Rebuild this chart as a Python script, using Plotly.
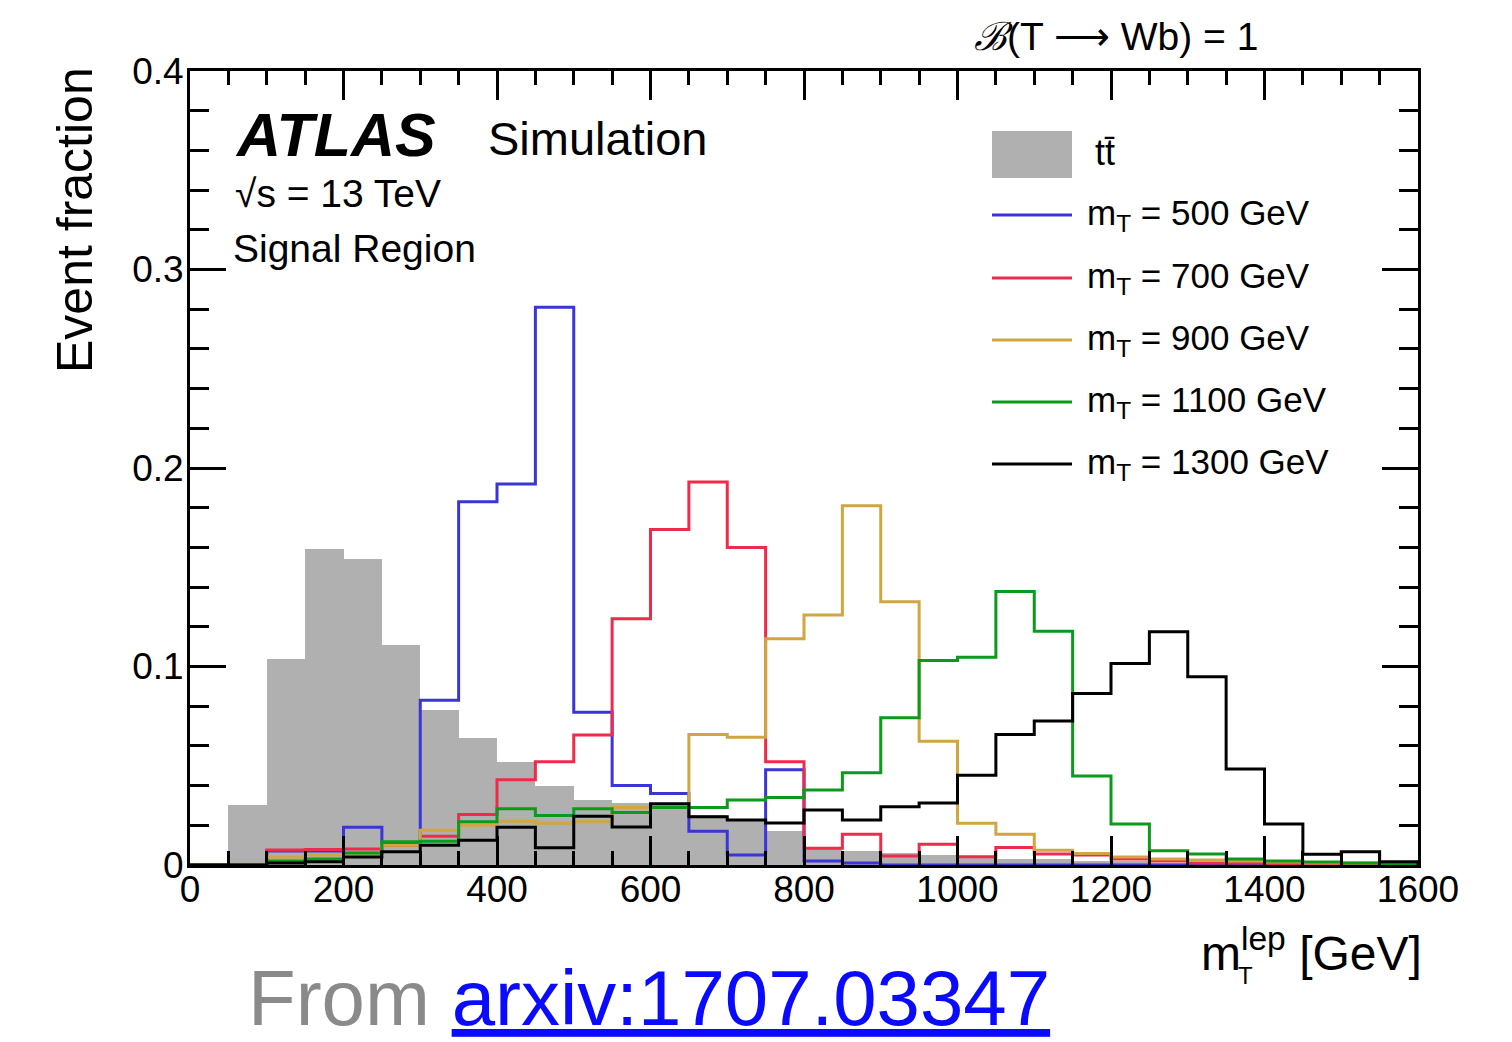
import plotly.graph_objects as go

# 50 GeV bins from 0 to 1600 GeV
bin_edges = list(range(0, 1650, 50))
bin_centers = [e + 25 for e in bin_edges[:-1]]

# Event fractions per bin (32 bins)
ttbar = [0.0, 0.030, 0.104, 0.159, 0.154, 0.111, 0.078, 0.064, 0.052, 0.040,
         0.033, 0.031, 0.030, 0.025, 0.022, 0.017, 0.009, 0.007, 0.006, 0.005,
         0.004, 0.003, 0.003, 0.002, 0.002, 0.001, 0.001, 0.001, 0.001, 0.0005,
         0.0005, 0.0005]
mT500 = [0.0, 0.0, 0.007, 0.007, 0.019, 0.011, 0.083, 0.183, 0.192, 0.281,
         0.077, 0.040, 0.036, 0.017, 0.005, 0.048, 0.002, 0.001, 0.0, 0.0,
         0.0, 0.0, 0.0, 0.0, 0.0, 0.0, 0.0, 0.0, 0.0, 0.0, 0.0, 0.0]
mT700 = [0.0, 0.0, 0.0076, 0.0078, 0.008, 0.010, 0.0145, 0.0255, 0.043, 0.052,
         0.0655, 0.124, 0.169, 0.193, 0.160, 0.052, 0.0084, 0.0155, 0.0045, 0.0105,
         0.0042, 0.0088, 0.0055, 0.005, 0.003, 0.002, 0.001, 0.001, 0.0005, 0.0005,
         0.0005, 0.0005]
mT900 = [0.0, 0.0, 0.004, 0.005, 0.006, 0.010, 0.0175, 0.020, 0.022, 0.021,
         0.0218, 0.029, 0.029, 0.0658, 0.0643, 0.114, 0.126, 0.181, 0.1326, 0.0624,
         0.021, 0.0155, 0.0074, 0.0058, 0.004, 0.003, 0.0025, 0.002, 0.0015, 0.001,
         0.001, 0.0005]
mT1100 = [0.0, 0.0, 0.002, 0.003, 0.006, 0.0117, 0.012, 0.0218, 0.0283, 0.025,
          0.0283, 0.0265, 0.029, 0.029, 0.0327, 0.034, 0.0378, 0.0465, 0.0742, 0.103,
          0.1046, 0.1378, 0.1178, 0.0448, 0.0207, 0.0072, 0.0055, 0.003, 0.002, 0.0015,
          0.001, 0.0005]
mT1300 = [0.0, 0.0, 0.001, 0.0017, 0.004, 0.0067, 0.010, 0.0125, 0.019, 0.0087,
          0.0245, 0.0192, 0.0308, 0.0243, 0.0227, 0.0212, 0.0277, 0.0227, 0.0294, 0.0312,
          0.0452, 0.0658, 0.0725, 0.0864, 0.1015, 0.1175, 0.0948, 0.0483, 0.0206, 0.0054,
          0.0067, 0.0017]

signal_series = [
    ("500", mT500, "#3b34d6"),
    ("700", mT700, "#ee2b4a"),
    ("900", mT900, "#cfa640"),
    ("1100", mT1100, "#0c9a1c"),
    ("1300", mT1300, "#000000"),
]

x_ticks = [0, 200, 400, 600, 800, 1000, 1200, 1400, 1600]
y_ticks = [0, 0.1, 0.2, 0.3, 0.4]

FONT = "Liberation Sans, Arial, sans-serif"
W, H = 1512, 1042
L, R, T, B = 190, 1418, 71, 865


def fx(x):
    return (x - L) / (R - L)


def fy(y):
    return (B - y) / (B - T)


def step_xy(vals):
    xs = [bin_edges[0]] + bin_edges
    ys = [0.0] + list(vals) + [0.0]
    return xs, ys


fig = go.Figure()

fig.add_trace(go.Bar(
    x=bin_centers, y=ttbar, width=50,
    marker=dict(color="#b0b0b0", line=dict(width=0)),
    showlegend=False, hoverinfo="skip",
))

for mass, vals, color in signal_series:
    xs, ys = step_xy(vals)
    fig.add_trace(go.Scatter(
        x=xs, y=ys, mode="lines", line=dict(color=color, width=3, shape="hv"),
        name=f"m_T = {mass} GeV", showlegend=False,
    ))

axis_common = dict(
    showline=True, linecolor="black", linewidth=3, mirror="allticks",
    ticks="inside", tickcolor="black", tickwidth=3,
    showgrid=False, zeroline=False,
    tickfont=dict(family=FONT, size=37, color="black"),
)

fig.update_xaxes(
    range=[0, 1600], tickvals=x_ticks, ticklen=29, ticklabelstandoff=-10,
    minor=dict(dtick=50, tick0=0, ticks="inside", ticklen=14, tickwidth=3, tickcolor="black"),
    **axis_common,
)
fig.update_yaxes(
    range=[0, 0.4], tickvals=y_ticks, ticklen=36, ticklabelstandoff=-4,
    minor=dict(dtick=0.02, tick0=0, ticks="inside", ticklen=19, tickwidth=3, tickcolor="black"),
    **axis_common,
)

annotations = []


def text(x, y, s, size, xanchor="left", yanchor="middle", color="black", angle=0):
    annotations.append(dict(
        x=fx(x), y=fy(y), xref="paper", yref="paper", text=s, showarrow=False,
        xanchor=xanchor, yanchor=yanchor, textangle=angle,
        font=dict(family=FONT, size=size, color=color),
    ))


text(233, 135, "<b><i>ATLAS</i></b>", 61)
text(486, 138, "Simulation", 47)
text(233, 193, "\u221As = 13 TeV", 39)
text(231, 248, "Signal Region", 39)
text(972, 37, "<i>\u212C</i>(T \u27f6 Wb) = 1", 39)

# legend
shapes = []
shapes.append(dict(type="rect", xref="paper", yref="paper",
                   x0=fx(992), x1=fx(1072), y0=fy(178), y1=fy(131),
                   fillcolor="#b0b0b0", line=dict(width=0)))
text(1093, 152, "tt\u0304", 36)
legend_y = [215, 278, 340, 402, 464]
for (mass, vals, color), ly in zip(signal_series, legend_y):
    shapes.append(dict(type="line", xref="paper", yref="paper",
                       x0=fx(992), x1=fx(1072), y0=fy(ly), y1=fy(ly),
                       line=dict(color=color, width=3)))
    text(1085, ly, f"m<sub>T</sub> = {mass} GeV", 35)

# axis titles
text(75, 220, "Event fraction", 50, xanchor="center", angle=-90)
text(1424, 950, "m<sup>lep</sup> [GeV]", 48, xanchor="right")
text(1236, 975, "T", 24)

# source line
text(246, 998,
     "<span style='color:#8a8a8a'>From</span> "
     "<span style='color:#0a0aff'><u>arxiv:1707.03347</u></span>",
     78)

fig.update_layout(
    width=W, height=H,
    margin=dict(l=L, r=W - R, t=T, b=H - B),
    paper_bgcolor="white", plot_bgcolor="white",
    bargap=0, showlegend=False,
    annotations=annotations, shapes=shapes,
    font=dict(family=FONT, color="black"),
)

fig.write_html("out.html")
